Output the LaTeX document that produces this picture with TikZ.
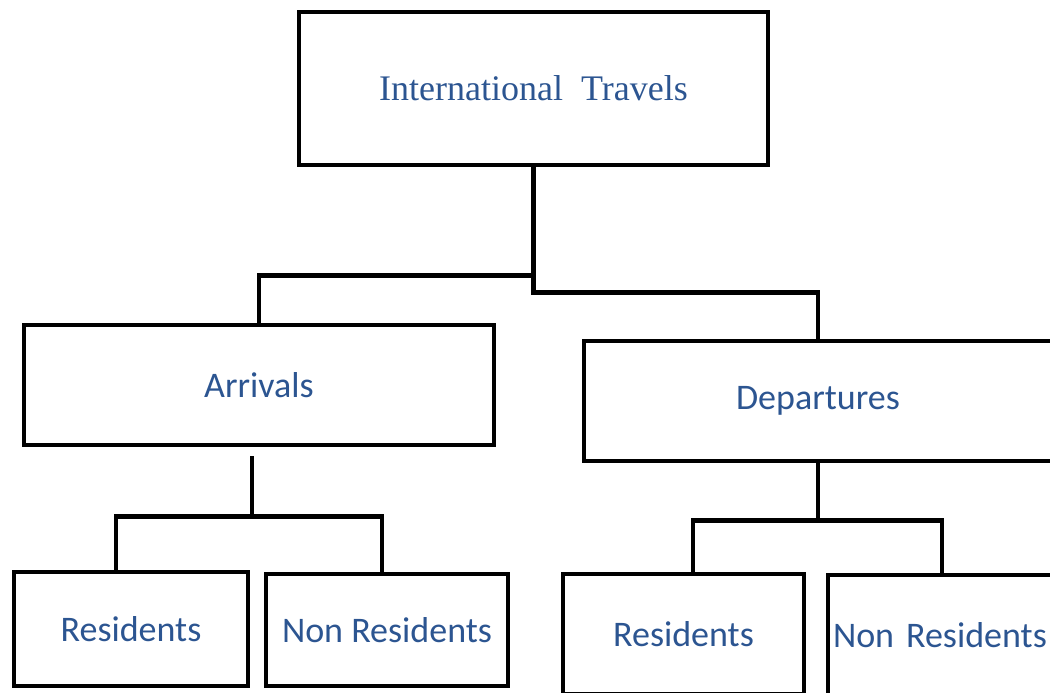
\documentclass[tikz,border=0pt]{standalone}
\usepackage{fontspec}
\setmainfont{Liberation Serif}
\newfontfamily\calibri{Carlito}
\usepackage{tikz}

\definecolor{textblue}{HTML}{2C5591}

\begin{document}
\begin{tikzpicture}[x=1pt,y=-1pt,
    box/.style={draw,rectangle,line width=4.5pt,inner sep=0pt,text=textblue,
      font=\calibri\fontsize{36}{40}\selectfont},
    link/.style={line width=4.5pt}]

        \useasboundingbox (0,0) rectangle (1050,693);
        \clip (0,0) rectangle (1050,693);

        %%% top %%%
        \node[box,minimum width=469pt,minimum height=153pt,
          font=\rmfamily\fontsize{36}{40}\selectfont] (top) at (533.5,88.5) {International\ \ Travels};

        %%% second row %%%
        \node[box,minimum width=470pt,minimum height=120pt] (arr) at (259,385) {Arrivals};
        \node[box,minimum width=468pt,minimum height=120pt] (dep) at (818,401) {Departures};
        \draw[link] (top.south) -- ++(0,125) -| (dep.north);
        \draw[link] ([yshift=-108pt]top.south) -| (arr.north);

        %%% under Arrivals %%%
        \node[box,minimum width=234pt,minimum height=114pt] (res1) at (131,629) {Residents};
        \node[box,minimum width=242pt,minimum height=112pt] (non1) at (387,630) {Non Residents};
        \draw[link] ([xshift=-7pt,yshift=-9pt]arr.south) -- ++(0,60) coordinate (af);
        \draw[link] ([xshift=-15pt]res1.north) |- (af) -| ([xshift=-5pt]non1.north);

        %%% under Departures %%%
        \node[box,minimum width=241pt,minimum height=120pt] (res2) at (683.5,634) {Residents};
        \node[box,inner xsep=5pt,text width=222pt,align=left,minimum height=120pt] (non2) at (944,635) {Non Residents};
        \draw[link] (dep.south) -- ++(0,57) coordinate (df);
        \draw[link] ([xshift=9.5pt]res2.north) |- (df) -| ([xshift=-2pt]non2.north);

\end{tikzpicture}
\end{document}
